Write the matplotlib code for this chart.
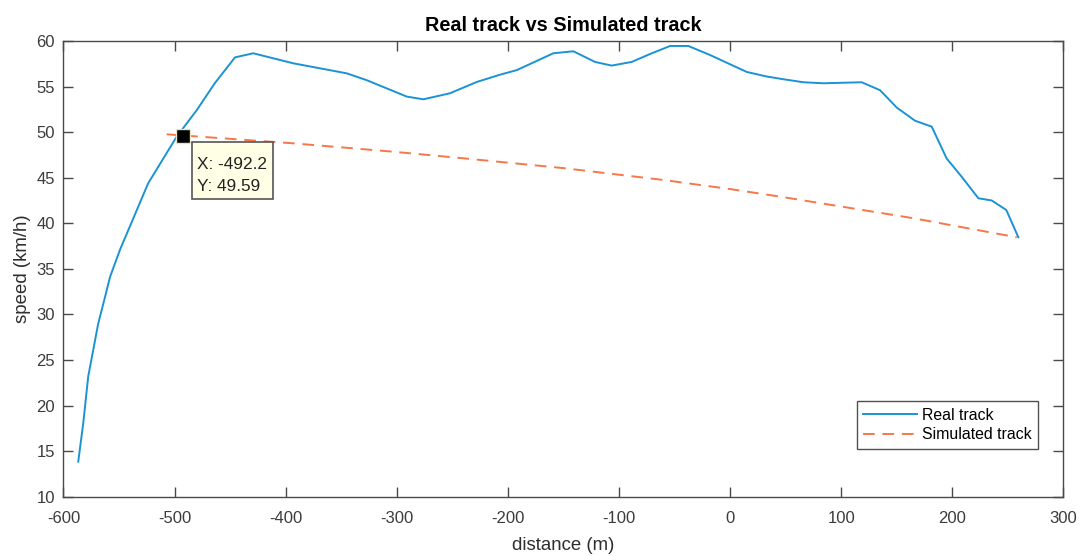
import matplotlib
matplotlib.use("Agg")
import matplotlib.pyplot as plt
from matplotlib.patches import Rectangle
from matplotlib.transforms import ScaledTranslation

plt.rcParams['font.family'] = ['Liberation Sans', 'DejaVu Sans']
plt.rcParams['axes.unicode_minus'] = False

# Measured speed along the real track
real_x = [-586.7, -582.2, -577.7, -573.2, -568.7, -562.6, -558.1, -549.1, -523.7,
          -498.1, -480.1, -463.6, -445.6, -429.2, -393.2, -345.1, -327.1, -291.1,
          -276.1, -252.2, -228.1, -207.1, -192.1, -159.1, -141.1, -121.6, -106.6,
          -88.6, -72.1, -54.1, -37.6, -18.1, 0.0, 15.0, 33.0, 48.0, 66.0, 84.0,
          118.4, 134.9, 149.9, 166.4, 181.4, 194.9, 208.4, 223.4, 235.4, 248.5, 259.4]
real_v = [13.84, 18.05, 23.2, 26.1, 29.0, 31.9, 34.1, 37.1, 44.4,
          49.5, 52.4, 55.4, 58.2, 58.65, 57.55, 56.45, 55.7, 53.9,
          53.6, 54.26, 55.5, 56.3, 56.8, 58.65, 58.87, 57.7, 57.3,
          57.7, 58.57, 59.45, 59.45, 58.46, 57.44, 56.6, 56.1, 55.8, 55.47, 55.36,
          55.47, 54.6, 52.7, 51.25, 50.6, 47.1, 45.1, 42.74, 42.5, 41.46, 38.46]

# Simulated speed profile
sim_x = [-507.1, -393.2, -303.2, -246.1, -150.0, -60.1, 0.0, 45.0, 165.0, 258.0]
sim_v = [49.76, 48.77, 47.85, 47.2, 46.05, 44.75, 43.75, 42.92, 40.55, 38.46]

tip_x, tip_y = -492.2, 49.59

fig = plt.figure(figsize=(10.81, 5.56), dpi=100)
ax = fig.add_axes([0.0587, 0.1067, 0.9251, 0.8196])

ax.plot(real_x, real_v, color='#1a93d4', lw=1.4, label='Real track')
ax.plot(sim_x, sim_v, color='#f5774a', lw=1.4, ls=(0, (6, 4)), label='Simulated track')

# Data tip: marker on the point, label box anchored to it (offsets in inches)
ax.plot([tip_x], [tip_y], marker='s', ms=9.5, color='black', mec='#e8e4c8', mew=1.0, zorder=5)
tip_trans = fig.dpi_scale_trans + ScaledTranslation(tip_x, tip_y, ax.transData)
ax.add_patch(Rectangle((0.084, -0.632), 0.81, 0.57, transform=tip_trans,
                       fc='#ffffe6', ec='#555555', lw=1.2, zorder=6, clip_on=False))
ax.text(0.14, -0.29, f"X: {tip_x}", transform=tip_trans, ha='left', va='center',
        fontsize=12.4, color='#222222', zorder=7)
ax.text(0.14, -0.51, f"Y: {tip_y}", transform=tip_trans, ha='left', va='center',
        fontsize=12.4, color='#222222', zorder=7)

ax.set_xlim(-600, 300)
ax.set_ylim(10, 60)
ax.set_xticks(range(-600, 301, 100))
ax.set_yticks(range(10, 61, 5))

for s in ax.spines.values():
    s.set_color('#4a4a4a')
    s.set_linewidth(1.0)
ax.tick_params(direction='in', length=7, width=1.0, colors='#4a4a4a',
               labelcolor='#3c3c3c', labelsize=12, top=True, right=True)
ax.tick_params(axis='x', pad=10)
ax.tick_params(axis='y', pad=6)

ax.set_xlabel('distance (m)', fontsize=13.4, color='#2e2e2e', labelpad=8)
ax.set_ylabel('speed (km/h)', fontsize=13.4, color='#2e2e2e', labelpad=4)
ax.set_title('Real track vs Simulated track', fontsize=14.3, fontweight='bold', pad=7)

leg = ax.legend(loc='lower right', bbox_to_anchor=(0.9744, 0.105), fontsize=11.4,
                frameon=True, fancybox=False, handlelength=3.4, handletextpad=0.3,
                borderpad=0.4, labelspacing=0.3, borderaxespad=0)
leg.get_frame().set_edgecolor('#262626')
leg.get_frame().set_linewidth(1.0)

fig.savefig('out.png', dpi=100)
